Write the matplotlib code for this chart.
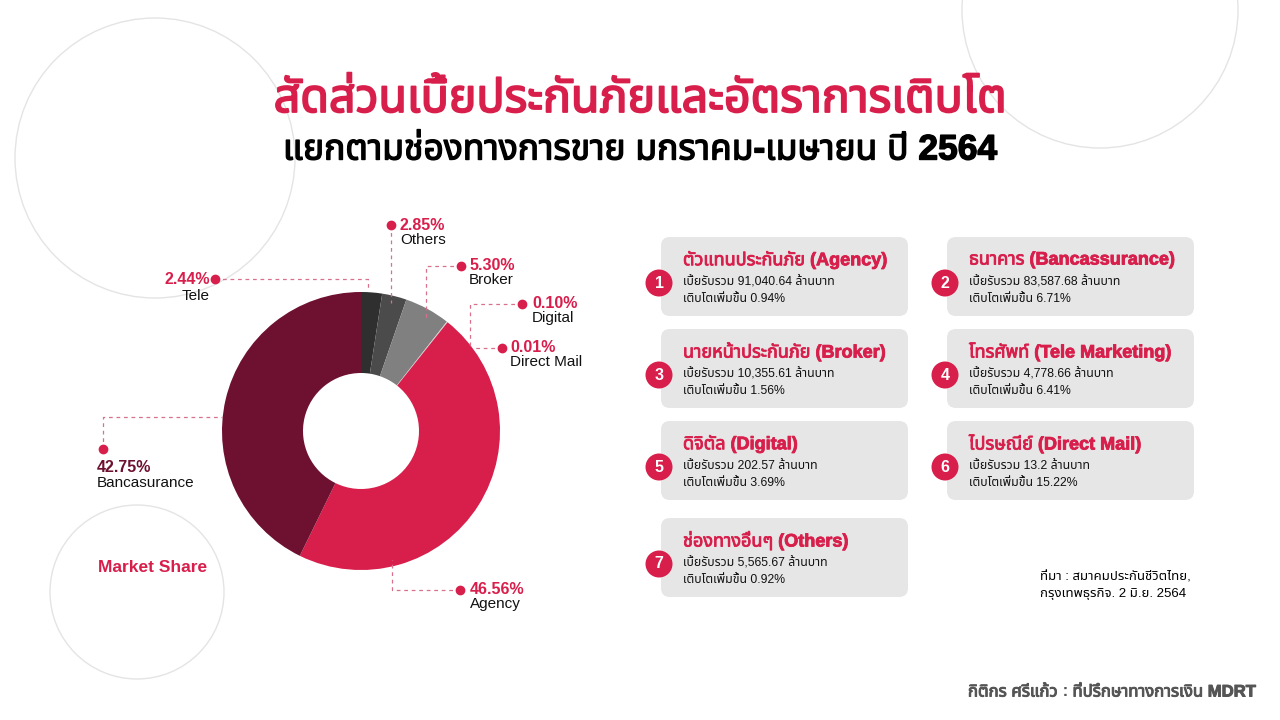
import matplotlib
matplotlib.use("Agg")
import matplotlib.pyplot as plt
from matplotlib import font_manager, patheffects
from matplotlib.ft2font import FT2Font
from matplotlib.patches import Circle, FancyBboxPatch

# ----------- Data -----------

pie_labels = ["Tele", "Others", "Broker", "Digital", "Direct Mail", "Agency", "Bancasurance"]
pie_shares = [2.44, 2.85, 5.30, 0.10, 0.01, 46.56, 42.75]
pie_colors = ["#2f2f2f", "#4b4b4b", "#808080", "#cfcfcf", "#cfcfcf", "#d81f4c", "#6e1030"]

box_thai = ["ตัวแทนประกันภัย", "ธนาคาร", "นายหน้าประกันภัย", "โทรศัพท์",
            "ดิจิตัล", "ไปรษณีย์", "ช่องทางอื่นๆ"]
box_eng = ["Agency", "Bancassurance", "Broker", "Tele Marketing",
           "Digital", "Direct Mail", "Others"]
premiums = ["91,040.64", "83,587.68", "10,355.61", "4,778.66", "202.57", "13.2", "5,565.67"]
growth = [0.94, 6.71, 1.56, 6.41, 3.69, 15.22, 0.92]

CRIMSON = "#d81f4c"
MAROON = "#6e1030"
LEADER = "#d9708c"

# ----------- Fonts -----------

def find_thai_font():
    # loopless Thai faces first, like the original artwork
    prefs = ["Noto Sans Thai", "Noto Sans Thai Looped", "Loma", "Garuda", "Sarabun",
             "Umpush", "Waree", "Kinnari", "Norasi", "Tlwg Typist"]
    weights = {}
    for f in font_manager.fontManager.ttflist:
        try:
            cmap = FT2Font(f.fname).get_charmap()
        except Exception:
            continue
        if 0x0E01 in cmap:
            w = f.weight
            if isinstance(w, str):
                w = font_manager.weight_dict.get(w, 400)
            weights.setdefault(f.name, set()).add(w)
    if not weights:
        return None, False
    names = [p for p in prefs if p in weights] + [n for n in weights if n not in prefs]
    return names[0], max(weights[names[0]]) >= 600

thai, thai_bold = find_thai_font()
families = ["Liberation Sans"] + ([thai] if thai else []) + ["DejaVu Sans"]
plt.rcParams["font.family"] = families


def heavy(color, lw):
    # thicken Thai glyphs when the Thai family has no bold face
    if thai_bold:
        return None
    return [patheffects.withStroke(linewidth=lw, foreground=color)]


# ----------- Figure -----------

fig = plt.figure(figsize=(12.8, 7.2), dpi=100)
fig.patch.set_facecolor("white")

bg = fig.add_axes([0, 0, 1, 1], zorder=0)
bg.set_xlim(0, 1280)
bg.set_ylim(720, 0)
bg.axis("off")

# decorative circles
for (cx, cy, r) in [(155, 158, 140), (1100, 10, 138), (137, 592, 87)]:
    bg.add_patch(Circle((cx, cy), r, fill=False, ec="#e4e4e4", lw=1))

bg.text(153, 568, "Market Share", color=CRIMSON, fontsize=12.5, fontweight="bold",
        ha="center", va="center")

# titles
bg.text(640, 100, "สัดส่วนเบี้ยประกันภัยและอัตราการเติบโต", color=CRIMSON,
        fontsize=33.5, fontweight="bold", ha="center", va="center",
        path_effects=heavy(CRIMSON, 1.3))
bg.text(640, 150, "แยกตามช่องทางการขาย มกราคม-เมษายน ปี 2564", color="black",
        fontsize=25.5, fontweight="bold", ha="center", va="center",
        path_effects=heavy("black", 1.0))

# info boxes
col_x = [661, 947]
row_y = [237, 329, 421, 518]
bw, bh = 247, 79
for i in range(len(box_eng)):
    x0 = col_x[i % 2]
    y0 = row_y[i // 2]
    bg.add_patch(FancyBboxPatch((x0 + 9, y0 + 9), bw - 18, bh - 18,
                                boxstyle="round,pad=9", fc="#e6e6e6", ec="none"))
    bg.add_patch(Circle((x0 - 2, y0 + 46), 13.5, fc=CRIMSON, ec="none"))
    bg.text(x0 - 2, y0 + 46, str(i + 1), color="white", fontsize=11.5,
            fontweight="bold", ha="center", va="center")
    tx = x0 + 22
    bg.text(tx, y0 + 23, f"{box_thai[i]} ({box_eng[i]})", color=CRIMSON,
            fontsize=13, fontweight="bold", ha="left", va="center",
            path_effects=heavy(CRIMSON, 0.6))
    bg.text(tx, y0 + 45, f"เบี้ยรับรวม {premiums[i]} ล้านบาท", color="#111111",
            fontsize=8.8, ha="left", va="center")
    bg.text(tx, y0 + 62, f"เติบโตเพิ่มขึ้น {growth[i]:.2f}%", color="#111111",
            fontsize=8.8, ha="left", va="center")

# source + footer
bg.text(1040, 577, "ที่มา : สมาคมประกันชีวิตไทย,", fontsize=9.5, ha="left", va="center")
bg.text(1040, 594, "กรุงเทพธุรกิจ. 2 มิ.ย. 2564", fontsize=9.5, ha="left", va="center")
foot_kw = dict(color="#555555", fontsize=12, fontweight="bold", va="center")
f1 = bg.text(968, 692, "กิติกร ศรีแก้ว", ha="left",
             path_effects=heavy("#555555", 0.7), **foot_kw)
f2 = bg.annotate(" : ", xy=(1, 0.5), xycoords=f1, ha="left", **foot_kw)
bg.annotate("ที่ปรึกษาทางการเงิน MDRT", xy=(1, 0.5), xycoords=f2, ha="left",
            path_effects=heavy("#555555", 0.7), **foot_kw)

# ----------- Donut -----------

cx, cy, r_out, r_in = 361, 431, 139, 58
pie_ax = fig.add_axes([(cx - r_out) / 1280, (720 - cy - r_out) / 720,
                       2 * r_out / 1280, 2 * r_out / 720], zorder=1)
pie_ax.pie(pie_shares, colors=pie_colors, startangle=90, counterclock=False,
           radius=1, wedgeprops=dict(width=(r_out - r_in) / r_out, linewidth=0))
pie_ax.set_xlim(-1, 1)
pie_ax.set_ylim(-1, 1)
pie_ax.set_aspect("equal")
pie_ax.axis("off")

# ----------- Leader labels -----------

top = fig.add_axes([0, 0, 1, 1], zorder=2)
top.set_xlim(0, 1280)
top.set_ylim(720, 0)
top.axis("off")
top.patch.set_alpha(0)

# (dot, leader path, text x, pct y, name y, ha)
label_layout = {
    "Tele": ((215, 279), [(215, 279), (368, 279), (368, 291)], 210, 280, 296, "right"),
    "Others": ((391, 225), [(391, 225), (391, 303)], 400, 225, 240, "left"),
    "Broker": ((461, 266), [(461, 266), (426, 266), (426, 320)], 469, 266, 280, "left"),
    "Digital": ((522, 304), [(522, 304), (470, 304), (470, 347)], 532, 304, 318, "left"),
    "Direct Mail": ((502, 348), [(502, 348), (472, 348)], 510, 348, 362, "left"),
    "Agency": ((460, 590), [(460, 590), (392, 590), (392, 560)], 470, 589, 604, "left"),
    "Bancasurance": ((103, 449), [(103, 449), (103, 417), (222, 417)], 97, 467, 483, "left"),
}

for name, share in zip(pie_labels, pie_shares):
    dot, path, tx, py, ny, ha = label_layout[name]
    xs, ys = zip(*path)
    top.plot(xs, ys, color=LEADER, lw=0.9, ls=(0, (3, 3)))
    top.plot(*dot, "o", color=CRIMSON, ms=6)
    pct_color = MAROON if name == "Bancasurance" else CRIMSON
    top.text(tx, py, f"{share:.2f}%", color=pct_color, fontsize=11.5,
             fontweight="bold", ha=ha, va="center")
    top.text(tx, ny, name, color="#111111", fontsize=11, ha=ha, va="center")

fig.savefig("out.png", dpi=100, facecolor="white")
